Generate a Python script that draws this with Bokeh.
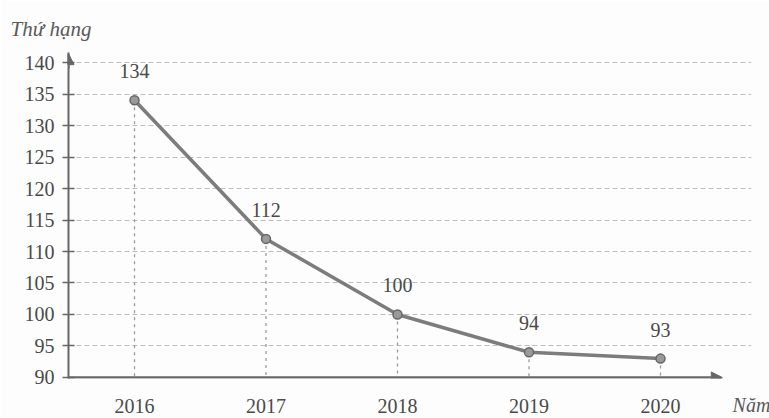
from bokeh.plotting import figure
from bokeh.models import Arrow, NormalHead, FixedTicker
from bokeh.embed import file_html
from bokeh.resources import INLINE

years = [2016, 2017, 2018, 2019, 2020]
ranks = [134, 112, 100, 94, 93]
y_ticks = [90, 95, 100, 105, 110, 115, 120, 125, 130, 135, 140]
y_title = "Thứ hạng"
x_title = "Năm"

FONT = "Liberation Serif"
TXT = "#4a4a4a"

p = figure(width=769, height=418, output_backend="svg", toolbar_location=None,
           x_range=(2015.498, 2020.692), y_range=(89.84, 141.59),
           min_border_left=68, min_border_right=18, min_border_top=52, min_border_bottom=35,
           title=y_title)
p.title.text_font = FONT
p.title.text_font_style = "italic"
p.title.text_font_size = "21px"
p.title.text_color = "#5a5a5a"
p.title.align = "left"
p.title.offset = -58
p.title.standoff = 24

p.outline_line_color = None
p.background_fill_color = "#fdfdfd"
p.border_fill_color = "#fdfdfd"

# grid
p.xgrid.grid_line_color = None
p.ygrid.ticker = FixedTicker(ticks=y_ticks[1:])
p.ygrid.grid_line_color = "#bdbdbd"
p.ygrid.grid_line_dash = "5 3"
p.ygrid.grid_line_width = 1

# y axis
p.yaxis.ticker = FixedTicker(ticks=y_ticks)
p.yaxis.axis_line_color = "#666666"
p.yaxis.axis_line_width = 2
p.yaxis.major_tick_in = 6
p.yaxis.major_tick_out = 6
p.yaxis.major_tick_line_color = "#666666"
p.yaxis.major_tick_line_width = 1.5
p.yaxis.minor_tick_line_color = None
p.yaxis.major_label_text_font = FONT
p.yaxis.major_label_text_font_size = "20px"
p.yaxis.major_label_text_color = TXT
p.yaxis.major_label_standoff = 8

# x axis
p.xaxis.ticker = FixedTicker(ticks=years)
p.xaxis.axis_line_color = None
p.xaxis.major_tick_line_color = None
p.xaxis.minor_tick_line_color = None
p.xaxis.major_label_text_font = FONT
p.xaxis.major_label_text_font_size = "20px"
p.xaxis.major_label_text_color = TXT
p.xaxis.major_label_standoff = 14
p.xaxis.axis_label = x_title
p.xaxis.axis_label_text_font = FONT
p.xaxis.axis_label_text_font_style = "italic"
p.xaxis.axis_label_text_font_size = "20px"
p.xaxis.axis_label_text_color = "#5a5a5a"
p.xaxis.axis_label_standoff = -22
p.xaxis.axis_label_align = "end"

# axis arrows
p.add_layout(Arrow(end=NormalHead(size=11, fill_color="#666666", line_color="#666666"),
                   x_start=2015.498, y_start=90, x_end=2020.47, y_end=90,
                   line_color="#666666", line_width=2.5))
p.add_layout(Arrow(end=NormalHead(size=11, fill_color="#666666", line_color="#666666"),
                   x_start=2015.498, y_start=139, x_end=2015.498, y_end=141.4,
                   line_color="#666666", line_width=2))

# drop lines
p.segment(x0=years, y0=ranks, x1=years, y1=[90] * len(years),
          line_color="#9a9a9a", line_width=1.3, line_dash="3 4")

# main line
p.line(years, ranks, line_color="#7c7c7c", line_width=3.5)
p.scatter(years, ranks, size=9, fill_color="#9a9a9a", line_color="#666666", line_width=1.5)

# value labels
p.text(x=years, y=ranks, text=[str(v) for v in ranks], y_offset=-29,
       text_align="center", text_baseline="middle", text_font_size="20px",
       text_color=TXT, text_font={"value": FONT})

open("out.html", "w").write(file_html(p, INLINE))
